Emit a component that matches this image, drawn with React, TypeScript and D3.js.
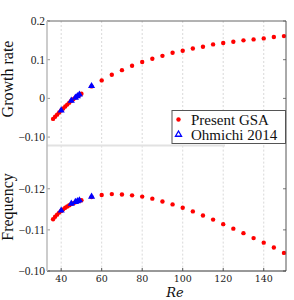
import React from 'react';
import * as d3 from 'd3';

// Present GSA (dense near onset, then every 5)
const gsaRe = [36, 37, 38, 39, 40, 41, 42, 43, 44, 45, 46, 47, 48, 49, 50, 55, 60, 65, 70, 75, 80, 85, 90, 95, 100, 105, 110, 115, 120, 125, 130, 135, 140, 145, 150];
const gsaGrowth = [-0.053, -0.0475, -0.042, -0.0365, -0.031, -0.026, -0.021, -0.016, -0.011, -0.006, -0.002, 0.002, 0.0055, 0.009, 0.012, 0.031, 0.0465, 0.061, 0.073, 0.0845, 0.094, 0.1026, 0.110, 0.118, 0.123, 0.129, 0.1336, 0.1395, 0.143, 0.1465, 0.150, 0.1525, 0.155, 0.1585, 0.161];
const gsaFreq = [-0.1126, -0.1132, -0.1137, -0.1142, -0.1146, -0.115, -0.1154, -0.1157, -0.116, -0.1163, -0.1165, -0.1167, -0.1169, -0.1171, -0.1172, -0.118, -0.1185, -0.1187, -0.1186, -0.1184, -0.1181, -0.1176, -0.1169, -0.1162, -0.1154, -0.1145, -0.1135, -0.1125, -0.1114, -0.1103, -0.1092, -0.108, -0.1069, -0.1057, -0.1044];

// Ohmichi 2014
const ohmRe = [40, 45, 47, 48, 49, 55];
const ohmGrowth = [-0.031, -0.006, 0.002, 0.006, 0.01, 0.032];
const ohmFreq = [-0.1147, -0.1164, -0.1168, -0.117, -0.1172, -0.1181];

const xTicks = [40, 60, 80, 100, 120, 140];
const growthTicks = [0.2, 0.1, 0, -0.1];
const growthLabels = ['0.2', '0.1', '0', '\u22120.10'];
const freqTicks = [-0.12, -0.11, -0.1];
const freqLabels = ['\u22120.12', '\u22120.11', '\u22120.10'];

const W = 294, H = 300;
const left = 47, right = 286, top = 21, mid = 145.6, bottom = 271;

const serif = '"Liberation Serif", "Times New Roman", serif';
const dvSerif = '"DejaVu Serif", serif';

export default function App() {
  const x = d3.scaleLinear().domain([33, 151]).range([left, right]);
  const yG = d3.scaleLinear().domain([-0.122, 0.2]).range([mid, top]);
  const yF = d3.scaleLinear().domain([-0.1305, -0.1]).range([mid, bottom]);
  const tri = d3.symbol().type(d3.symbolTriangle).size(22);

  const panel = (yS: d3.ScaleLinear<number, number>, yTop: number, yBot: number,
    gVals: number[], oVals: number[], ticks: number[], labels: string[]) => (
    <g>
      {xTicks.map(t => (
        <line key={t} x1={x(t)} x2={x(t)} y1={yTop} y2={yBot}
          stroke="#cfcfcf" strokeWidth={0.8} strokeDasharray="2,2" />
      ))}
      {ticks.map((t, i) => (
        <g key={t}>
          <line x1={left} x2={left + 3} y1={yS(t)} y2={yS(t)} stroke="#999" />
          <line x1={right - 3} x2={right} y1={yS(t)} y2={yS(t)} stroke="#777" />
          <text x={left - 2} y={yS(t)} dy="0.35em" textAnchor="end"
            fontFamily={serif} fontSize={11.5} fill="#222">{labels[i]}</text>
        </g>
      ))}
      {gsaRe.map((r, i) => (
        <circle key={i} cx={x(r)} cy={yS(gVals[i])} r={2.2} fill="#ff0000" />
      ))}
      {ohmRe.map((r, i) => (
        <path key={i} d={tri()!} transform={`translate(${x(r)},${yS(oVals[i])})`} fill="#0000ff" />
      ))}
    </g>
  );

  return (
    <svg width={W} height={H} style={{ position: 'absolute', left: 0, top: 0 }}>
      <rect width={W} height={H} fill="#fff" />
      {panel(yG, top, mid, gsaGrowth, ohmGrowth, growthTicks, growthLabels)}
      {panel(yF, mid, bottom, gsaFreq, ohmFreq, freqTicks, freqLabels)}

      {/* frame */}
      <line x1={left} x2={right} y1={top} y2={top} stroke="#666" strokeWidth={1} />
      <line x1={right} x2={right} y1={top} y2={bottom} stroke="#555" strokeWidth={1} />
      <line x1={left} x2={225} y1={mid} y2={mid} stroke="#e2e2e2" strokeWidth={2} />
      <line x1={left} x2={right} y1={bottom} y2={bottom} stroke="#333" strokeWidth={1} />
      <line x1={left} x2={left} y1={top} y2={bottom} stroke="#bbb" strokeWidth={1.5} />

      {xTicks.map(t => (
        <g key={t}>
          <line x1={x(t)} x2={x(t)} y1={bottom} y2={bottom - 3} stroke="#555" />
          <text x={x(t)} y={bottom + 10.5} textAnchor="middle"
            fontFamily={dvSerif} fontSize={9.5} fill="#222">{t}</text>
        </g>
      ))}

      <text x={175} y={297} textAnchor="middle" fontFamily={dvSerif}
        fontStyle="italic" fontSize={13} fill="#111">Re</text>
      <text transform="translate(13,79) rotate(-90)" textAnchor="middle"
        fontFamily={serif} fontSize={16} fill="#111">Growth rate</text>
      <text transform="translate(13,207) rotate(-90)" textAnchor="middle"
        fontFamily={serif} fontSize={16} fill="#111">Frequency</text>

      {/* legend */}
      <g>
        <rect x={172} y={110.5} width={113.5} height={33} fill="#fff" stroke="#555" strokeWidth={1} />
        <circle cx={178.5} cy={119.5} r={2.2} fill="#ff0000" />
        <path d={d3.symbol().type(d3.symbolTriangle).size(16)()!} transform="translate(178.5,134.5)"
          fill="#fff" stroke="#0000ff" strokeWidth={1.3} />
        <text x={191} y={119.5} dy="0.35em" fontFamily={serif} fontSize={15} fill="#111">Present GSA</text>
        <text x={191} y={134.5} dy="0.35em" fontFamily={serif} fontSize={15} fill="#111">Ohmichi 2014</text>
      </g>
    </svg>
  );
}
